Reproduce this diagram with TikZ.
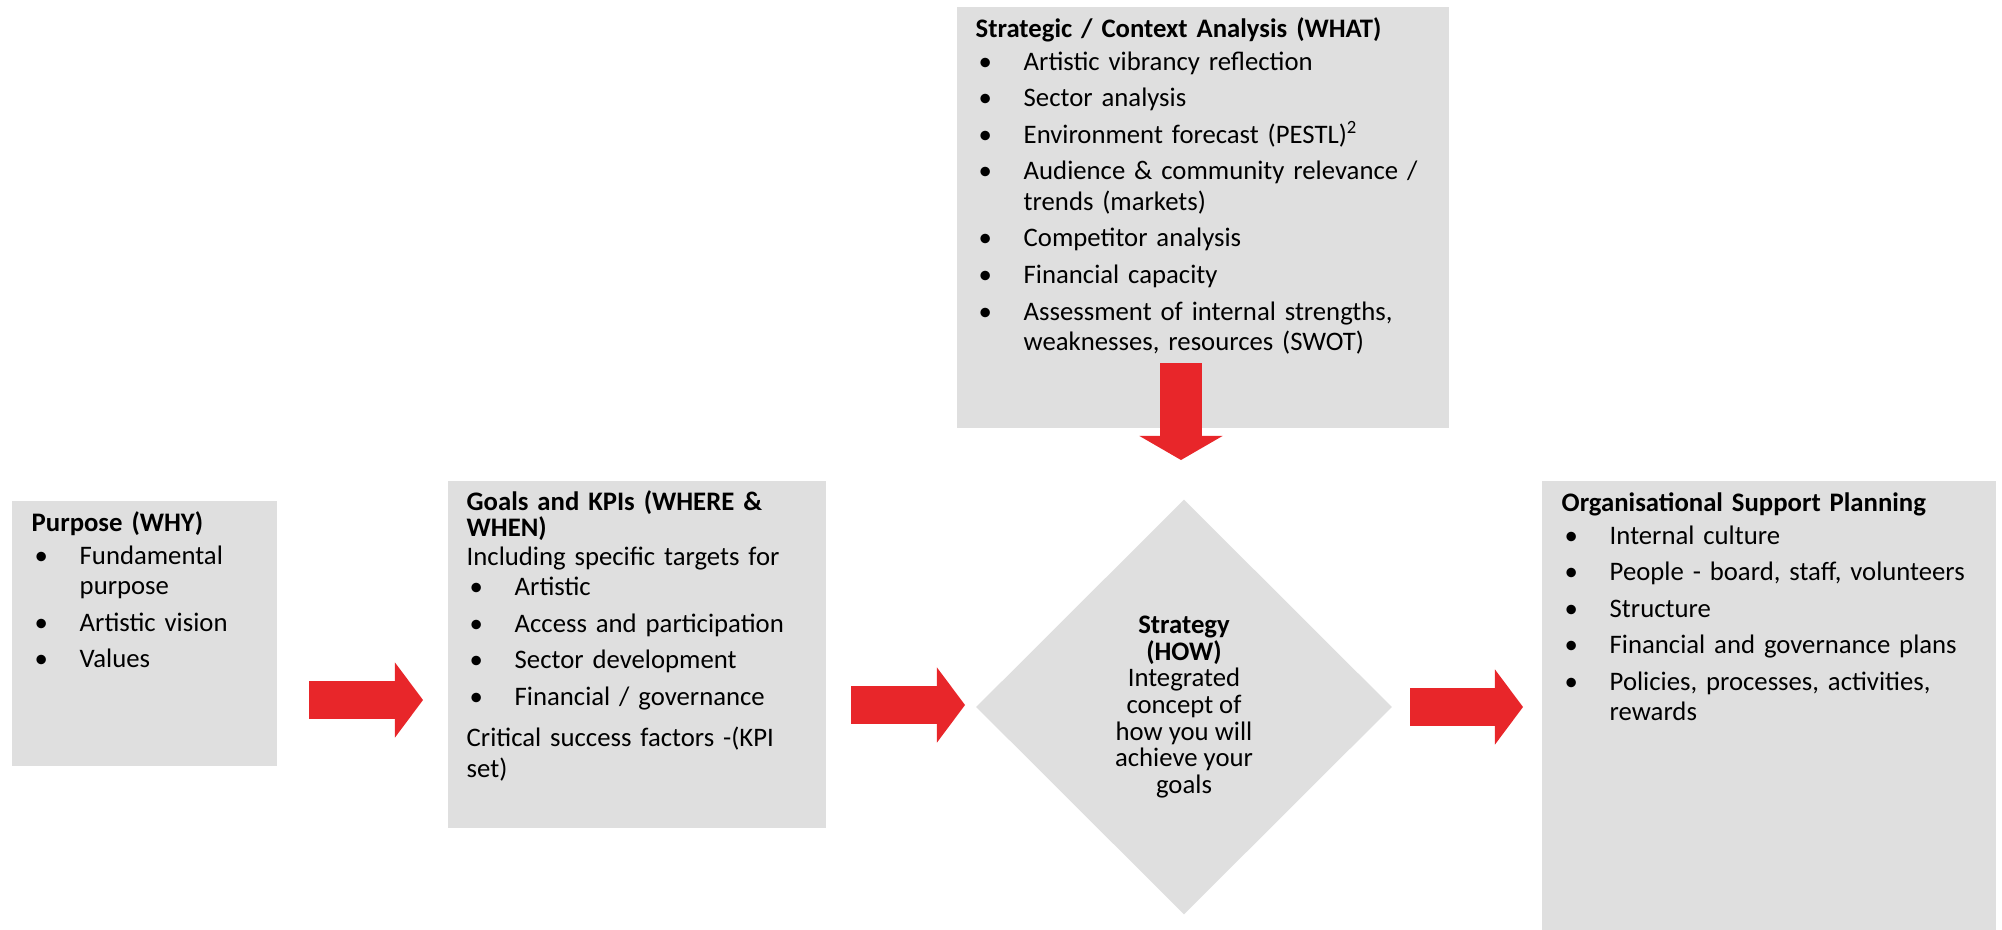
\documentclass[tikz,border=0pt]{standalone}
\usepackage{fontspec}
\setmainfont{Carlito}
\usetikzlibrary{arrows.meta,shapes.geometric}

\definecolor{boxgray}{HTML}{DFDFDF}
\definecolor{arrred}{HTML}{E8262A}

\def\fs{\fontsize{7.6pt}{8.7pt}\selectfont}
\def\nl{\hfil\break}
\newlength{\bind}\setlength{\bind}{0.48cm}
\newcommand{\hd}[1]{\textbf{#1}\par\vspace{-1pt}}
\newcommand{\bitem}[2][1.7pt]{\par\vspace{#1}\hangindent=\bind\hangafter=1\noindent\hbox to\bind{\hskip0.03cm\textbullet\hfil}#2}

\begin{document}
\begin{tikzpicture}[x=0.01cm, y=-0.01cm, every node/.style={inner sep=0},
  box/.style={fill=boxgray, anchor=north west},
  txt/.style={anchor=base west, text width=4.6cm, align=left, font=\fs},
  bigarrow/.style={draw=arrred, line width=0.37cm, -{Triangle[length=0.28cm, width=0.75cm, line width=0pt]}}]

	\useasboundingbox (0,0) rectangle (2002,930);

	\node[box, minimum width=2.65cm, minimum height=2.65cm] (WHY) at (11,500) {};
	\node[box, minimum width=3.78cm, minimum height=3.47cm] (WHERE) at (447,480) {};
	\node[box, minimum width=4.92cm, minimum height=4.21cm] (WHAT) at (956,6) {};
	\node[box, minimum width=4.54cm, minimum height=4.50cm] (ORG) at (1541,480) {};
	\node[diamond, fill=boxgray, minimum width=4.16cm, minimum height=4.15cm, align=center, font=\fontsize{7.6pt}{7.6pt}\selectfont] (HOW) at (1184,707)
		{\textbf{Strategy}\\\textbf{(HOW)}\\Integrated\\concept of\\how you will\\achieve your\\goals};

	\node[txt] (WHYt) at (31,531) {\hd{Purpose (WHY)}\bitem{Fundamental\nl purpose}\bitem{Artistic vision}\bitem{Values}\par};

	\node[txt] (WHEREt) at (466,510) {{\fontsize{7.6pt}{7.4pt}\selectfont\textbf{Goals and KPIs (WHERE \&\nl WHEN)}\par}\vspace{-0.45pt}Including specific targets for
		\bitem[0pt]{Artistic}\bitem{Access and participation}\bitem{Sector development}\bitem{Financial / governance}
		\par\vspace{3pt}Critical success factors -(KPI\nl set)\par};

	\node[txt] (WHATt) at (975,37) {\hd{Strategic / Context Analysis (WHAT)}\bitem{Artistic vibrancy reflection}\bitem{Sector analysis}
		\bitem{Environment forecast (PESTL)\textsuperscript{2}}\bitem{Audience \& community relevance /\nl trends (markets)}
		\bitem{Competitor analysis}\bitem{Financial capacity}\bitem{Assessment of internal strengths,\nl weaknesses, resources (SWOT)}\par};

	\node[txt] (ORGt) at (1561,511) {\hd{Organisational Support Planning}\bitem{Internal culture}\bitem{People - board, staff, volunteers}
		\bitem{Structure}\bitem{Financial and governance plans}\bitem{Policies, processes, activities,\nl rewards}\par};

	\coordinate (a1) at (309,700);
	\coordinate (a1e) at (423,700);
	\coordinate (a2) at (851,705);
	\coordinate (a2e) at (965,705);
	\coordinate (a3) at (1410,707);
	\coordinate (a3e) at (1523,707);
	\coordinate (d1) at (1181,363);
	\coordinate (d1e) at (1181,460);

	\draw[bigarrow] (a1) to (a1e);
	\draw[bigarrow] (a2) to (a2e);
	\draw[bigarrow] (a3) to (a3e);
	\draw[bigarrow, line width=0.42cm, -{Triangle[length=0.24cm, width=0.83cm, line width=0pt]}] (d1) to (d1e);

\end{tikzpicture}
\end{document}
